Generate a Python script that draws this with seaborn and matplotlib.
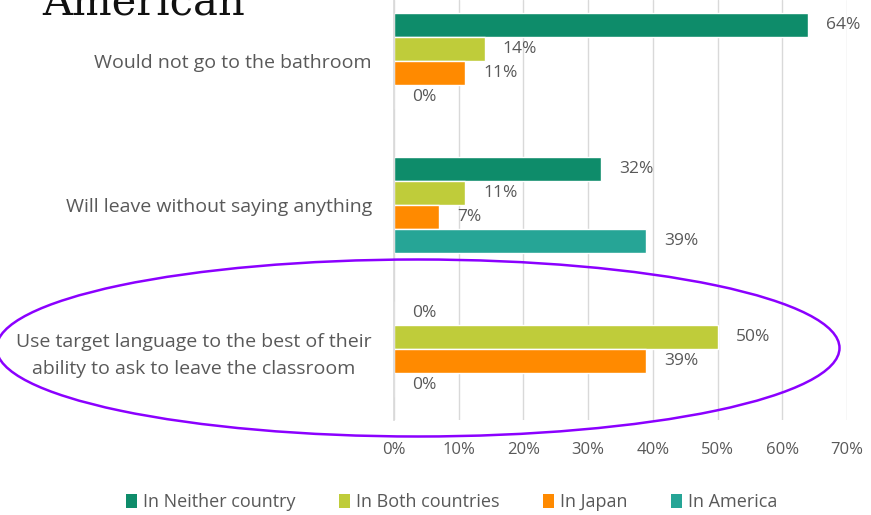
import matplotlib
matplotlib.use("Agg")
import matplotlib.pyplot as plt
from matplotlib.patches import Ellipse, Patch
from matplotlib import font_manager
import seaborn as sns
import pandas as pd

# Survey responses: what students do when they need the bathroom during class
situations = [
    "Would not go to the bathroom",
    "Will leave without saying anything",
    "Use target language to the best of their\nability to ask to leave the classroom",
]
groups = ["In Neither country", "In Both countries", "In Japan", "In America"]
neither = [64, 32, 0]
both = [14, 11, 50]
japan = [11, 7, 39]
america = [0, 39, 0]
x_ticks = [0, 10, 20, 30, 40, 50, 60, 70]
colors = ["#0E8C6A", "#BFCC3A", "#FF8A00", "#26A596"]

rows = []
for g, vals in zip(groups, [neither, both, japan, america]):
    for s, v in zip(situations, vals):
        rows.append({"situation": s, "group": g, "pct": v})
df = pd.DataFrame(rows)

sns.set_theme(style="white")
installed = {f.name for f in font_manager.fontManager.ttflist}
sans = [f for f in ["Liberation Sans Narrow", "Open Sans", "DejaVu Sans"] if f in installed]
plt.rcParams["font.family"] = sans

W, H = 871, 515
fig = plt.figure(figsize=(W / 100, H / 100), dpi=100)
ax_left, ax_right = 394 / W, 847 / W
ax_top, ax_bot = 0 / H, 420 / H
ax = fig.add_axes([ax_left, 1 - ax_bot, ax_right - ax_left, ax_bot - ax_top])

sns.barplot(data=df, y="situation", x="pct", hue="group", order=situations,
            hue_order=groups, palette=colors, orient="h", width=0.67,
            saturation=1, ax=ax, legend=False)

label_color = "#595959"
for cont in ax.containers:
    ax.bar_label(cont, labels=[f"{v:.0f}%" for v in cont.datavalues],
                 padding=13, fontsize=12.5, color=label_color)

# category centers at 0,1,2 ; 144 px per category
ax.set_ylim(2 + (420 - 349) / 144, -61 / 144)
ax.set_xlim(0, 70)
ax.set_xticks(x_ticks)
ax.set_xticklabels([f"{t}%" for t in x_ticks], fontsize=12, color=label_color)
ax.tick_params(axis="x", length=0, pad=16)
ax.tick_params(axis="y", length=0, pad=16)
for lab in ax.get_yticklabels():
    lab.set_fontsize(14)
    lab.set_color(label_color)
    lab.set_multialignment("center")
    lab.set_linespacing(1.65)
ax.set_xlabel("")
ax.set_ylabel("")
ax.grid(axis="x", color="#D9D9D9", linewidth=1)
ax.set_axisbelow(True)
for side in ["top", "right", "bottom"]:
    ax.spines[side].set_visible(False)
ax.spines["left"].set_color("#D9D9D9")

handles = [Patch(facecolor=c, edgecolor="none") for c in colors]
fig.legend(handles, groups, loc="center", bbox_to_anchor=(452 / W, 1 - 502 / H),
           ncol=4, frameon=False, fontsize=13, handlelength=0.6, handleheight=0.8,
           handletextpad=0.35, columnspacing=2.4, labelcolor=label_color)

fig.text(42 / W, 1 - 15 / H, "American", family="DejaVu Serif", fontsize=30,
         color="#111111", va="baseline", ha="left")

ell = Ellipse((418 / W, 1 - 348 / H), 843 / W, 177 / H, transform=fig.transFigure,
              fill=False, edgecolor="#8B00FF", linewidth=1.8, clip_on=False)
fig.add_artist(ell)

fig.savefig("out.png", dpi=100)
